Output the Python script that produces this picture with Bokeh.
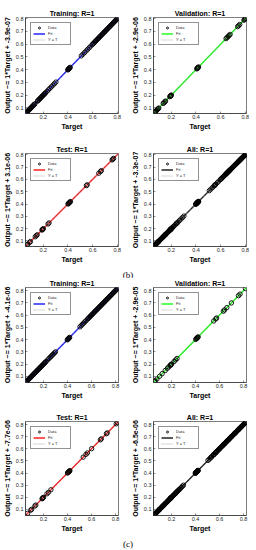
from bokeh.plotting import figure
from bokeh.layouts import column, row
from bokeh.models import Div, Legend, LegendItem, Spacer
from bokeh.embed import file_html
from bokeh.resources import INLINE

# ---------------- data ----------------
limits_b = [0.055, 0.81]
limits_c = [0.05, 0.825]
x_ticks = [0.2, 0.4, 0.6, 0.8]
y_ticks = [0.1, 0.2, 0.3, 0.4, 0.5, 0.6, 0.7, 0.8]

titles = ["Training: R=1", "Validation: R=1", "Test: R=1", "All: R=1"]
fit_slope = 1
intercept_labels_b = ["-3.9e-07", "-2.9e-06", "3.1e-06", "-3.3e-07"]
intercept_labels_c = ["-4.1e-06", "-2.9e-05", "-7.7e-06", "-6.5e-06"]
fit_colors = ["#0000ff", "#00ff00", "#ff0000", "#000000"]

train_b_target = [0.058, 0.063, 0.068, 0.073, 0.078, 0.083, 0.089, 0.094, 0.099, 0.104,
                  0.110, 0.115, 0.120, 0.126, 0.131,
                  0.152, 0.157, 0.163, 0.168, 0.174, 0.179, 0.185, 0.190, 0.196, 0.201,
                  0.207, 0.212, 0.218,
                  0.229, 0.241, 0.253, 0.265, 0.278, 0.290, 0.302,
                  0.398, 0.401, 0.404, 0.408, 0.411, 0.414, 0.418,
                  0.508, 0.521, 0.534, 0.547, 0.560, 0.573, 0.586,
                  0.598, 0.604, 0.610, 0.617, 0.623, 0.629, 0.636, 0.642, 0.648, 0.655,
                  0.661, 0.667, 0.674, 0.680, 0.686, 0.693, 0.699, 0.705, 0.712, 0.718,
                  0.724, 0.731, 0.737, 0.743, 0.750, 0.756, 0.762, 0.769, 0.775, 0.781,
                  0.788, 0.794, 0.800, 0.806]
val_b_target = [0.066, 0.070, 0.075, 0.081, 0.087, 0.093, 0.098, 0.134, 0.140, 0.147,
                0.153, 0.187, 0.191, 0.194, 0.197, 0.200, 0.406, 0.410, 0.413, 0.417,
                0.421, 0.644, 0.652, 0.661, 0.669, 0.677, 0.738, 0.746, 0.755, 0.789,
                0.794, 0.799, 0.804]
test_b_target = [0.068, 0.075, 0.089, 0.095, 0.134, 0.143, 0.150, 0.189, 0.192, 0.196,
                 0.200, 0.238, 0.246, 0.400, 0.404, 0.408, 0.412, 0.416, 0.420, 0.549,
                 0.556, 0.650, 0.664, 0.671, 0.758, 0.764, 0.770]

train_c_target = [0.053, 0.059, 0.065, 0.071, 0.077, 0.083, 0.089, 0.095, 0.101, 0.107,
                  0.113, 0.119, 0.125, 0.131, 0.137, 0.143, 0.149, 0.155, 0.161, 0.167,
                  0.173, 0.179, 0.185, 0.191, 0.197, 0.203, 0.209, 0.215, 0.221,
                  0.234, 0.246, 0.255, 0.264, 0.273, 0.282, 0.291, 0.300,
                  0.398, 0.402, 0.406, 0.410, 0.414, 0.418,
                  0.504, 0.514, 0.524, 0.534, 0.544, 0.554,
                  0.566, 0.573, 0.579, 0.586, 0.592, 0.599, 0.605, 0.612, 0.618, 0.625,
                  0.631, 0.638, 0.644, 0.651, 0.657, 0.664, 0.670, 0.677, 0.683, 0.690,
                  0.696, 0.703, 0.709, 0.716, 0.722, 0.729, 0.735, 0.742, 0.748, 0.755,
                  0.761, 0.768, 0.774, 0.781, 0.787, 0.794, 0.800, 0.807, 0.813, 0.820]
val_c_target = [0.058, 0.064, 0.079, 0.101, 0.122, 0.148, 0.166, 0.178, 0.189, 0.193,
                0.197, 0.201, 0.221, 0.234, 0.246, 0.402, 0.406, 0.410, 0.414, 0.418,
                0.422, 0.552, 0.569, 0.576, 0.632, 0.642, 0.661, 0.699, 0.758, 0.771,
                0.816]
test_c_target = [0.068, 0.094, 0.101, 0.128, 0.136, 0.188, 0.192, 0.196, 0.200, 0.229,
                 0.241, 0.262, 0.400, 0.404, 0.408, 0.412, 0.416, 0.420, 0.531, 0.554,
                 0.566, 0.601, 0.674, 0.682, 0.724, 0.731, 0.806, 0.816]

# R = 1: every output equals its target
train_b_output = list(train_b_target)
val_b_output = list(val_b_target)
test_b_output = list(test_b_target)
train_c_output = list(train_c_target)
val_c_output = list(val_c_target)
test_c_output = list(test_c_target)

all_b_target = train_b_target + val_b_target + test_b_target
all_b_output = train_b_output + val_b_output + test_b_output
all_c_target = train_c_target + val_c_target + test_c_target
all_c_output = train_c_output + val_c_output + test_c_output

FONT = "Liberation Sans"
DARK = "#262626"


def make_panel(title, targets, outputs, limits, intercept_label, color,
               height, bottom):
    p = figure(width=128, height=height, x_range=tuple(limits), y_range=tuple(limits),
               output_backend="svg", toolbar_location=None,
               min_border_left=5, min_border_right=10,
               min_border_top=0, min_border_bottom=bottom)
    p.title.text = title
    p.title.align = "center"
    p.title.text_font = FONT
    p.title.text_font_size = "7px"
    p.title.text_font_style = "bold"
    p.title.text_color = "black"
    p.title.standoff = 1

    intercept = float(intercept_label)
    fx = list(limits)
    fy = [fit_slope * v + intercept for v in fx]
    r_fit = p.line(fx, fy, line_color=color, line_width=1.3)
    r_yt = p.line(fx, fx, line_color="#9a9a9a", line_width=0.8, line_dash="1 1")
    r_data = p.scatter(targets, outputs, marker="circle", size=4.4,
                       fill_alpha=0, line_color="black", line_width=0.9)

    p.xaxis.ticker = x_ticks
    p.yaxis.ticker = y_ticks
    p.xaxis.axis_label = "Target"
    p.yaxis.axis_label = "Output ~= 1*Target + " + intercept_label
    for ax in (p.xaxis[0], p.yaxis[0]):
        ax.axis_label_text_font = FONT
        ax.axis_label_text_font_size = "7px"
        ax.axis_label_text_font_style = "bold"
        ax.axis_label_text_color = "black"
        ax.axis_label_standoff = 2
        ax.major_label_text_font = FONT
        ax.major_label_text_font_size = "5.5px"
        ax.major_label_text_color = DARK
        ax.major_label_standoff = 2
        ax.major_tick_in = 2
        ax.major_tick_out = 0
        ax.major_tick_line_color = DARK
        ax.major_tick_line_width = 0.5
        ax.minor_tick_line_color = None
        ax.axis_line_color = DARK
        ax.axis_line_width = 0.6
    p.xaxis.axis_label_standoff = 1
    p.xaxis.major_label_standoff = 1
    p.grid.visible = False
    p.outline_line_color = DARK
    p.outline_line_width = 0.6
    p.outline_line_alpha = 1

    legend = Legend(items=[LegendItem(label="Data", renderers=[r_data]),
                           LegendItem(label="Fit", renderers=[r_fit]),
                           LegendItem(label="Y = T", renderers=[r_yt])],
                    location="top_left")
    legend.margin = 5
    legend.padding = 2
    legend.spacing = 1
    legend.glyph_height = 5
    legend.glyph_width = 12
    legend.label_height = 5
    legend.label_standoff = 3
    legend.label_text_font = FONT
    legend.label_text_font_size = "4px"
    legend.label_text_color = DARK
    legend.border_line_color = DARK
    legend.border_line_width = 0.5
    legend.background_fill_alpha = 1
    p.add_layout(legend)
    return p


def label_div(txt, h):
    return Div(text='<div style="text-align:center;font-family:\'Liberation Serif\';'
                    'font-size:9px;line-height:' + str(h) + 'px;width:256px;">' + txt + '</div>',
               width=256, height=h, margin=0)


sets_b = [(train_b_target, train_b_output), (val_b_target, val_b_output),
          (test_b_target, test_b_output), (all_b_target, all_b_output)]
sets_c = [(train_c_target, train_c_output), (val_c_target, val_c_output),
          (test_c_target, test_c_output), (all_c_target, all_c_output)]

# (figure height, bottom border) per grid row
row_geom = [(136, 30), (123, 20), (134, 29), (124, 20)]

pb = []
for i, (t, o) in enumerate(sets_b):
    h, bt = row_geom[i // 2]
    pb.append(make_panel(titles[i], t, o, limits_b, intercept_labels_b[i],
                         fit_colors[i], h, bt))
pc = []
for i, (t, o) in enumerate(sets_c):
    h, bt = row_geom[2 + i // 2]
    pc.append(make_panel(titles[i], t, o, limits_c, intercept_labels_c[i],
                         fit_colors[i], h, bt))

layout = column(Spacer(width=256, height=7, margin=0),
                row(pb[0], pb[1]), row(pb[2], pb[3]), label_div("(b)", 11),
                row(pc[0], pc[1]), row(pc[2], pc[3]), label_div("(c)", 12))

open("out.html", "w").write(file_html(layout, INLINE))
